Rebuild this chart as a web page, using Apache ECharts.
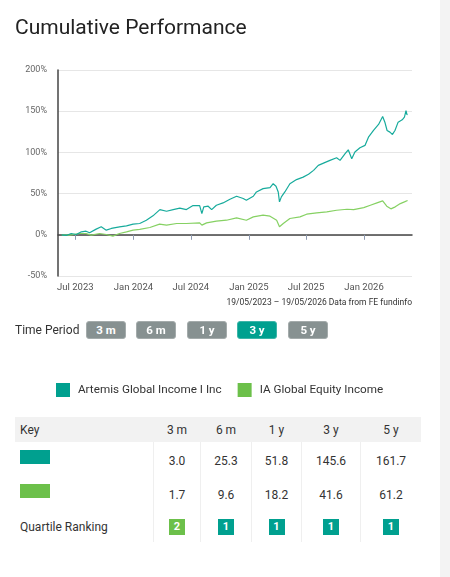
<!DOCTYPE html>
<html>
<head>
<meta charset="utf-8">
<script src="https://cdn.jsdelivr.net/npm/echarts@6/dist/echarts.min.js"></script>
<style>
  html, body { margin: 0; padding: 0; background: #fff; }
  body { width: 450px; height: 577px; position: relative; overflow: hidden; font-family: Roboto, "Noto Sans", sans-serif; color: #333; }
  #chart { position: absolute; left: 0; top: 0; width: 450px; height: 410px; }
  .abs { position: absolute; }
  .btn { position: absolute; top: 321px; width: 40px; height: 18px; box-sizing: border-box; border: 1px solid #a4abab; border-radius: 3px; background: #879191; color: #fff; font-size: 11.5px; font-weight: bold; text-align: center; line-height: 16px; }
  .btn.on { background: #00a08f; border-color: #3db5a8; }
  .cell { position: absolute; font-size: 12px; color: #333; transform: translate(-50%, -50%); white-space: nowrap; }
  .lab { position: absolute; font-size: 12px; color: #333; transform: translateY(-50%); white-space: nowrap; }
  .sep { position: absolute; top: 442px; height: 100px; width: 1px; background: #efefef; }
  .badge { position: absolute; width: 16px; height: 16px; color: #fff; font-size: 11px; font-weight: bold; text-align: center; line-height: 16px; transform: translate(-50%, -50%); }
  #strip { position: absolute; left: 440px; top: 0; width: 10px; height: 577px; background: #f3f3f3; }
</style>
</head>
<body>
<div id="chart"></div>
<div id="strip"></div>
<div id="extras"></div>
<script>
// ---- data ----
const fundName = 'Artemis Global Income I Inc';
const sectorName = 'IA Global Equity Income';

const fundDates = ['2023-05-19','2023-06-02','2023-06-18','2023-07-04','2023-07-20','2023-08-04','2023-08-15','2023-09-05','2023-09-21','2023-10-07','2023-10-23','2023-11-18','2023-12-10','2023-12-31','2024-01-21','2024-02-11','2024-03-03','2024-03-25','2024-04-15','2024-05-06','2024-05-27','2024-06-17','2024-07-08','2024-07-29','2024-08-05','2024-08-11','2024-08-25','2024-09-05','2024-09-20','2024-10-11','2024-11-02','2024-11-23','2024-12-14','2024-12-24','2025-01-15','2025-01-25','2025-02-15','2025-03-09','2025-03-19','2025-03-28','2025-04-04','2025-04-08','2025-04-14','2025-04-25','2025-05-11','2025-06-01','2025-06-22','2025-07-09','2025-07-25','2025-08-09','2025-08-31','2025-09-15','2025-10-06','2025-10-17','2025-11-02','2025-11-12','2025-11-23','2025-12-03','2025-12-19','2026-01-04','2026-01-15','2026-01-31','2026-02-16','2026-03-01','2026-03-08','2026-03-15','2026-03-24','2026-04-01','2026-04-09','2026-04-19','2026-05-02','2026-05-09','2026-05-14','2026-05-17','2026-05-19'];
const fundValues = [0,-0.8,1.6,0.4,3.6,4.4,2.4,6.9,9.7,5.6,7.7,9.7,10.9,12.9,13.7,17.7,23.0,30.6,28.6,30.6,32.3,30.6,35.5,35.5,25.8,33.9,34.7,30.6,35.9,38.7,43.1,46.8,44.0,41.9,46.8,52.0,56.0,57.3,62.0,58.9,52.0,40.0,46.0,52.0,62.0,67.0,70.0,73.4,78.2,84.3,87.9,90.3,93.5,90.3,98.4,103.2,92.3,100.4,105.6,108.5,118.5,126.6,133.9,143.5,136.7,126.6,124.6,121.8,126.6,136.7,139.5,142.7,150.8,146.0,145.6];

const sectorDates = ['2023-05-19','2023-06-13','2023-07-14','2023-08-04','2023-08-20','2023-09-16','2023-10-07','2023-10-28','2023-11-18','2023-12-10','2023-12-31','2024-01-21','2024-02-22','2024-03-24','2024-04-15','2024-05-17','2024-06-17','2024-07-29','2024-08-05','2024-08-20','2024-09-20','2024-10-22','2024-11-23','2024-12-24','2025-01-15','2025-02-15','2025-03-09','2025-03-30','2025-04-08','2025-04-20','2025-05-11','2025-06-12','2025-07-03','2025-08-04','2025-09-05','2025-10-06','2025-11-08','2025-11-29','2025-12-31','2026-01-21','2026-02-11','2026-03-01','2026-03-14','2026-03-27','2026-04-10','2026-04-26','2026-05-09','2026-05-19'];
const sectorValues = [0,-0.4,1.6,1.6,-0.4,1.6,0.4,-1.6,1.6,3.6,5.6,6.5,8.9,12.9,11.7,13.7,13.7,14.5,11.7,14.5,16.5,17.7,20.6,17.7,21.8,23.8,22.6,17.7,9.7,13.7,19.8,21.8,25.0,26.6,27.8,29.8,31.0,30.6,33.0,35.9,38.7,41.1,34.7,31.5,33.9,37.9,39.9,41.6];

const xTickDates = ['2023-07-01','2024-01-01','2024-07-01','2025-01-01','2025-07-01','2026-01-01'];
const yTicks = [-50, 0, 50, 100, 150, 200];
const xRange = ['2023-05-07', '2026-06-02'];
const sourceNote = '19/05/2023 \u2013 19/05/2026 Data from FE fundinfo';

const periods = ['3 m', '6 m', '1 y', '3 y', '5 y'];
const activePeriod = '3 y';
const fundReturns = [3.0, 25.3, 51.8, 145.6, 161.7];
const sectorReturns = [1.7, 9.6, 18.2, 41.6, 61.2];
const quartiles = [2, 1, 1, 1, 1];

// ---- styling ----
const TEAL = '#00a08f', TEAL_LINE = '#17ab9c';
const GREEN = '#6cc04a', GREEN_LINE = '#86d163';
const FONT = 'Roboto';
const monthNames = ['Jan','Feb','Mar','Apr','May','Jun','Jul','Aug','Sep','Oct','Nov','Dec'];

function ts(s) { const p = s.split('-').map(Number); return Date.UTC(p[0], p[1] - 1, p[2]); }

const chart = echarts.init(document.getElementById('chart'), null, { renderer: 'canvas' });
chart.setOption({
  animation: false,
  textStyle: { fontFamily: FONT },
  title: [
    { text: 'Cumulative Performance', left: 10, top: 13, textStyle: { fontSize: 21, fontWeight: 'normal', color: '#222', fontFamily: FONT } },
    { text: sourceNote, right: 33, top: 293, textStyle: { fontSize: 8.5, fontWeight: 'normal', color: '#333', fontFamily: FONT } }
  ],
  legend: {
    left: 51, top: 378, itemWidth: 14, itemHeight: 14, itemGap: 16, icon: 'rect',
    textStyle: { fontSize: 11.7, color: '#333', fontFamily: FONT, padding: [0, 0, 0, 3] },
    data: [
      { name: fundName, itemStyle: { color: TEAL } },
      { name: sectorName, itemStyle: { color: GREEN } }
    ]
  },
  grid: { left: 58, right: 38, top: 70, height: 206 },
  xAxis: {
    type: 'value',
    min: ts(xRange[0]), max: ts(xRange[1]),
    axisLine: { show: true, lineStyle: { color: '#444', width: 1.5 } },
    axisTick: { show: true, length: 5, lineStyle: { color: '#8e9ab0' }, customValues: xTickDates.map(ts) },
    axisLabel: {
      customValues: xTickDates.map(ts), fontSize: 9.5, color: '#555', margin: 7, fontFamily: FONT,
      formatter: v => { const d = new Date(v); return monthNames[d.getUTCMonth()] + ' ' + d.getUTCFullYear(); }
    },
    splitLine: { show: false }
  },
  yAxis: {
    type: 'value', min: yTicks[0], max: yTicks[yTicks.length - 1], interval: 50,
    axisLine: { show: true, lineStyle: { color: '#444', width: 1.5 } },
    axisTick: { show: false },
    axisLabel: { formatter: '{value}%', fontSize: 9, color: '#666', margin: 11, fontFamily: FONT },
    splitLine: { lineStyle: { color: '#e6e6e6' } }
  },
  series: [
    { name: fundName, type: 'line', symbol: 'none', data: fundDates.map((d, i) => [ts(d), fundValues[i]]),
      itemStyle: { color: TEAL }, lineStyle: { color: TEAL_LINE, width: 1.2 }, z: 3 },
    { name: sectorName, type: 'line', symbol: 'none', data: sectorDates.map((d, i) => [ts(d), sectorValues[i]]),
      itemStyle: { color: GREEN }, lineStyle: { color: GREEN_LINE, width: 1.2 }, z: 2 }
  ]
});

// ---- HTML parts: time period buttons and key table ----
const ex = document.getElementById('extras');
let html = '';
html += '<div class="lab" style="left:15px;top:330px;">Time Period</div>';
const btnLeft = [86, 136, 187, 237, 288];
periods.forEach((p, i) => {
  html += '<div class="btn' + (p === activePeriod ? ' on' : '') + '" style="left:' + btnLeft[i] + 'px;">' + p + '</div>';
});
const colCenters = [177, 226, 276.5, 331, 391];
const seps = [153, 200, 251, 301, 360];
html += '<div class="abs" style="left:15px;top:417px;width:406px;height:25px;background:#f2f2f2;"></div>';
html += '<div class="lab" style="left:20px;top:430px;">Key</div>';
periods.forEach((p, i) => { html += '<div class="cell" style="left:' + colCenters[i] + 'px;top:430px;">' + p + '</div>'; });
seps.forEach(x => { html += '<div class="sep" style="left:' + x + 'px;"></div>'; });
html += '<div class="abs" style="left:20px;top:450px;width:30px;height:14px;background:' + TEAL + ';"></div>';
html += '<div class="abs" style="left:20px;top:484px;width:30px;height:14px;background:' + GREEN + ';"></div>';
fundReturns.forEach((v, i) => { html += '<div class="cell" style="left:' + colCenters[i] + 'px;top:461px;">' + v.toFixed(1) + '</div>'; });
sectorReturns.forEach((v, i) => { html += '<div class="cell" style="left:' + colCenters[i] + 'px;top:495px;">' + v.toFixed(1) + '</div>'; });
html += '<div class="lab" style="left:20px;top:527px;">Quartile Ranking</div>';
quartiles.forEach((q, i) => {
  html += '<div class="badge" style="left:' + colCenters[i] + 'px;top:527px;background:' + (q === 1 ? TEAL : GREEN) + ';">' + q + '</div>';
});
ex.innerHTML = html;
</script>
</body>
</html>
